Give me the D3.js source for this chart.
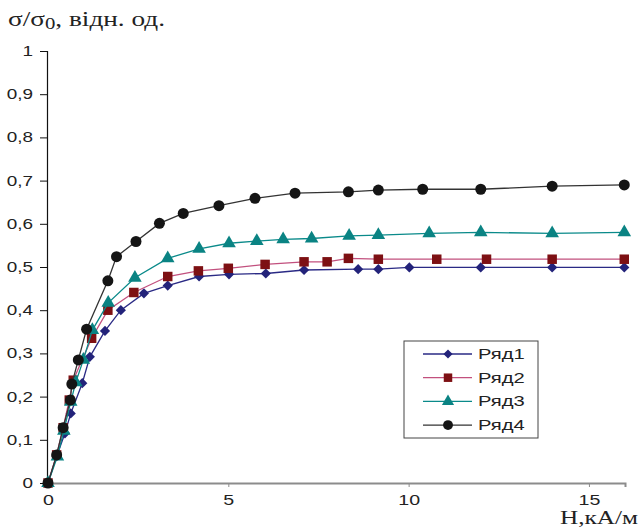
<!DOCTYPE html>
<html>
<head>
<meta charset="utf-8">
<script src="https://cdn.jsdelivr.net/npm/d3@7"></script>
<style>
  body { margin: 0; background: #fff; }
  svg { display: block; }
</style>
</head>
<body>
<div id="chart"></div>
<script>
const width = 644;
const height = 531;

// series data (H in kA/m, sigma/sigma0)
const h1 = [0, 0.24, 0.47, 0.63, 0.95, 1.16, 1.58, 2.02, 2.66, 3.32, 4.19, 5.02, 6.04, 7.10, 8.60, 9.16, 10.02, 12.0, 13.98, 15.98];
const s1 = [0, 0.062, 0.115, 0.161, 0.231, 0.292, 0.352, 0.400, 0.439, 0.457, 0.478, 0.483, 0.485, 0.493, 0.495, 0.495, 0.499, 0.499, 0.499, 0.499];

const h2 = [0, 0.24, 0.42, 0.59, 0.70, 1.21, 1.66, 2.38, 3.32, 4.17, 5.0, 6.02, 7.10, 7.74, 8.33, 9.16, 10.78, 12.16, 13.98, 15.98];
const s2 = [0, 0.065, 0.128, 0.192, 0.238, 0.335, 0.400, 0.441, 0.478, 0.491, 0.497, 0.506, 0.512, 0.512, 0.520, 0.518, 0.518, 0.518, 0.518, 0.518];

const h3 = [0, 0.26, 0.44, 0.63, 0.77, 0.98, 1.23, 1.67, 2.41, 3.32, 4.19, 5.02, 5.79, 6.52, 7.31, 8.35, 9.16, 10.57, 12.0, 13.98, 15.98];
const s3 = [0, 0.061, 0.121, 0.188, 0.233, 0.285, 0.354, 0.417, 0.475, 0.520, 0.542, 0.555, 0.560, 0.564, 0.566, 0.572, 0.574, 0.578, 0.580, 0.578, 0.580];

const h4 = [0, 0.24, 0.42, 0.62, 0.66, 0.84, 1.07, 1.66, 1.90, 2.44, 3.09, 3.75, 4.74, 5.74, 6.85, 8.33, 9.16, 10.39, 12.0, 13.98, 15.98];
const s4 = [0, 0.065, 0.128, 0.192, 0.229, 0.285, 0.356, 0.468, 0.524, 0.559, 0.601, 0.624, 0.642, 0.659, 0.671, 0.674, 0.678, 0.680, 0.680, 0.687, 0.690];

const seriesNames = ["Ряд1", "Ряд2", "Ряд3", "Ряд4"];
const xTicks = [0, 5, 10, 15];
const yTicks = [0, 0.1, 0.2, 0.3, 0.4, 0.5, 0.6, 0.7, 0.8, 0.9, 1];

const styles = [
  { line: "#2a2a85", fill: "#23237a", symbol: d3.symbolSquare, size: 52, rot: 45 },
  { line: "#c2507e", fill: "#7d1013", symbol: d3.symbolSquare, size: 90, rot: 0 },
  { line: "#0a8a8a", fill: "#0a8383", symbol: d3.symbolTriangle, size: 80, rot: 0 },
  { line: "#333333", fill: "#151515", symbol: d3.symbolCircle, size: 95, rot: 0 }
];

const series = [
  { name: seriesNames[0], pts: h1.map((h, i) => [h, s1[i]]) },
  { name: seriesNames[1], pts: h2.map((h, i) => [h, s2[i]]) },
  { name: seriesNames[2], pts: h3.map((h, i) => [h, s3[i]]) },
  { name: seriesNames[3], pts: h4.map((h, i) => [h, s4[i]]) }
];

// the original picture is stretched sideways, so widen sans texts
function stretch(sel, k) {
  sel.each(function () {
    const w = this.getComputedTextLength();
    d3.select(this).attr("textLength", w * k).attr("lengthAdjust", "spacingAndGlyphs");
  });
}

const x = d3.scaleLinear().domain([0, 16]).range([48, 625]);
const y = d3.scaleLinear().domain([0, 1]).range([483, 51]);

const svg = d3.select("#chart").append("svg")
  .attr("width", width)
  .attr("height", height);

// x axis (grey)
const xAxis = svg.append("g")
  .attr("transform", `translate(0,${y(0)})`)
  .call(d3.axisBottom(x).tickValues(xTicks).tickSize(4).tickPadding(8).tickFormat(d3.format("d")));
xAxis.select(".domain").attr("stroke", "#8c8c8c").attr("stroke-width", 2);
xAxis.selectAll(".tick line").attr("stroke", "#8c8c8c");
xAxis.selectAll("text")
  .style("font-family", "Liberation Sans, Arial, sans-serif")
  .style("font-size", "14px")
  .attr("fill", "#222")
  .call(stretch, 1.4);

// y axis (black)
const yAxis = svg.append("g")
  .attr("transform", `translate(${x(0) - 1},0)`)
  .call(d3.axisLeft(y).tickValues(yTicks).tickSize(7).tickPadding(7)
    .tickFormat(d => d === 0 || d === 1 ? d3.format("d")(d) : d3.format(".1f")(d).replace(".", ",")));
yAxis.select(".domain").attr("stroke", "#111").attr("stroke-width", 1.2);
yAxis.selectAll(".tick line").attr("stroke", "#111");
yAxis.selectAll("text")
  .style("font-family", "Liberation Sans, Arial, sans-serif")
  .style("font-size", "14px")
  .attr("fill", "#222")
  .call(stretch, 1.35);

const line = d3.line().x(d => x(d[0])).y(d => y(d[1]));

series.forEach((s, i) => {
  const st = styles[i];
  const g = svg.append("g");
  g.append("path")
    .attr("d", line(s.pts))
    .attr("fill", "none")
    .attr("stroke", st.line)
    .attr("stroke-width", 1.3);
  g.selectAll("path.m")
    .data(s.pts)
    .join("path")
    .attr("class", "m")
    .attr("transform", d => `translate(${x(d[0])},${y(d[1])}) rotate(${st.rot})`)
    .attr("d", d3.symbol().type(st.symbol).size(st.size))
    .attr("fill", st.fill);
});

// legend
const legend = svg.append("g").attr("transform", "translate(404,341)");
legend.append("rect")
  .attr("width", 134)
  .attr("height", 97)
  .attr("fill", "#fff")
  .attr("stroke", "#444")
  .attr("stroke-width", 1);

seriesNames.forEach((name, i) => {
  const st = styles[i];
  const ly = 13 + i * 23.7;
  legend.append("line")
    .attr("x1", 19).attr("x2", 68)
    .attr("y1", ly).attr("y2", ly)
    .attr("stroke", st.line)
    .attr("stroke-width", 1.3);
  legend.append("path")
    .attr("transform", `translate(44,${ly}) rotate(${st.rot})`)
    .attr("d", d3.symbol().type(st.symbol).size(st.size * 0.8))
    .attr("fill", st.fill);
  legend.append("text")
    .attr("x", 74)
    .attr("y", ly)
    .attr("dy", "0.36em")
    .style("font-family", "Liberation Sans, Arial, sans-serif")
    .style("font-size", "14px")
    .attr("fill", "#222")
    .text(name)
    .call(stretch, 1.44);
});

// axis titles
const yt = svg.append("text")
  .attr("x", 8)
  .attr("y", 26)
  .attr("textLength", 157)
  .attr("lengthAdjust", "spacingAndGlyphs")
  .style("font-family", "Liberation Serif, Times New Roman, serif")
  .style("font-size", "21px")
  .attr("fill", "#222");
yt.append("tspan").text("σ/σ");
yt.append("tspan").attr("font-size", "16px").attr("dy", 3).text("0");
yt.append("tspan").attr("dy", -3).text(", відн. од.");

svg.append("text")
  .attr("x", 560)
  .attr("y", 524)
  .attr("textLength", 78)
  .attr("lengthAdjust", "spacingAndGlyphs")
  .style("font-family", "Liberation Serif, Times New Roman, serif")
  .style("font-size", "18px")
  .attr("fill", "#222")
  .text("H,кА/м");
</script>
</body>
</html>
